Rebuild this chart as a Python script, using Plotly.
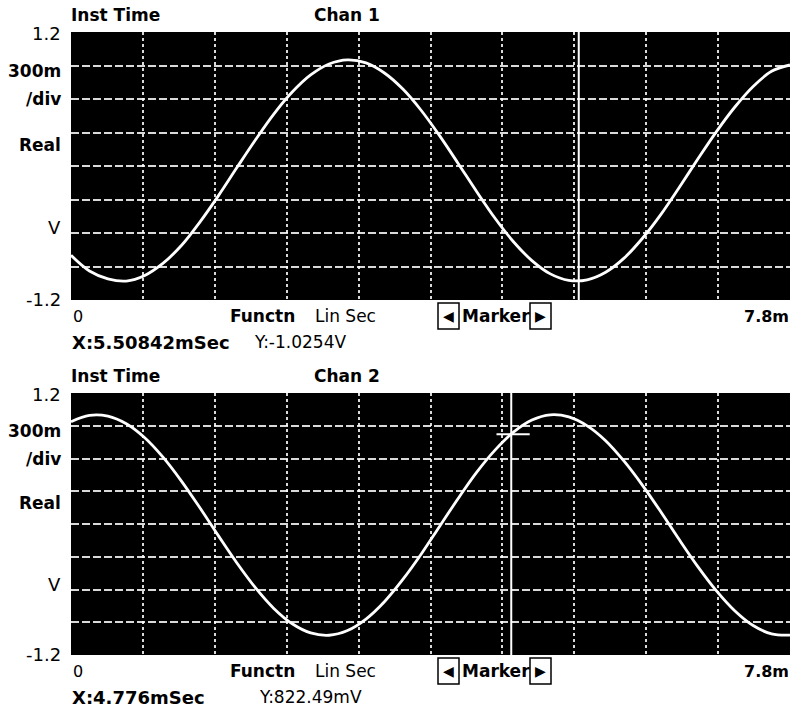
import plotly.graph_objects as go

# ---------------- data ----------------
time_ms = [0.0, 0.2, 0.4, 0.6, 0.8, 1.0, 1.2, 1.4, 1.6, 1.8,
           2.0, 2.2, 2.4, 2.6, 2.8, 3.0, 3.2, 3.4, 3.6, 3.8,
           4.0, 4.2, 4.4, 4.6, 4.8, 5.0, 5.2, 5.4, 5.6, 5.8,
           6.0, 6.2, 6.4, 6.6, 6.8, 7.0, 7.2, 7.4, 7.6, 7.8]

chan1_v = [-0.80, -0.94, -1.01, -1.03, -0.98, -0.87, -0.71, -0.50, -0.265, -0.014,
           0.233, 0.465, 0.662, 0.815, 0.913, 0.95, 0.923, 0.833, 0.689, 0.497,
           0.27, 0.023, -0.228, -0.468, -0.678, -0.847, -0.966, -1.024, -1.019, -0.951,
           -0.825, -0.647, -0.433, -0.19, 0.062, 0.306, 0.526, 0.712, 0.848, 0.905]

chan2_v = [0.937, 0.995, 0.988, 0.918, 0.79, 0.61, 0.391, 0.146, -0.109, -0.357,
           -0.583, -0.773, -0.914, -0.998, -1.019, -0.976, -0.871, -0.712, -0.508, -0.275,
           -0.02, 0.234, 0.473, 0.677, 0.841, 0.952, 1.0, 0.981, 0.899, 0.763,
           0.575, 0.354, 0.11, -0.145, -0.39, -0.61, -0.794, -0.93, -1.007, -1.018]

x_range = [0.0, 7.8]
y_range = [-1.2, 1.2]
x_div = 0.78
y_div = 0.3

channel_titles = ["Chan 1", "Chan 2"]
marker_x = [5.50842, 4.776]
marker_y = [-1.0254, 0.82249]
readout_x = ["X:5.50842mSec", "X:4.776mSec"]
readout_y = ["Y:-1.0254V", "Y:822.49mV"]
left_labels = [("1.2", 1.2, False), ("300m", 0.85, True), ("/div", 0.6, True),
               ("Real", 0.19, True), ("V", -0.55, False), ("-1.2", -1.2, False)]

# ---------------- layout geometry (pixels) ----------------
W, H = 797, 714
X0, X1 = 71, 790
panels = [(32, 300), (393, 655)]
FONT = "DejaVu Sans"


def fx(p):
    return p / W


def fy(p):
    return 1 - p / H


fig = go.Figure()
annotations = []
shapes = []

for i, (top, bot) in enumerate(panels):
    n = "" if i == 0 else str(i + 1)
    xa, ya = "x" + n, "y" + n
    vals = chan1_v if i == 0 else chan2_v
    fig.add_trace(go.Scatter(x=time_ms, y=vals, mode="lines", xaxis=xa, yaxis=ya,
                             line=dict(color="white", width=2.8, shape="spline"),
                             showlegend=False, hoverinfo="skip"))
    # marker vertical line
    fig.add_trace(go.Scatter(x=[marker_x[i], marker_x[i]], y=y_range, mode="lines",
                             xaxis=xa, yaxis=ya, line=dict(color="white", width=2),
                             showlegend=False, hoverinfo="skip"))
    if i == 1:
        fig.add_trace(go.Scatter(x=[marker_x[i] - 0.16, marker_x[i] + 0.2],
                                 y=[marker_y[i], marker_y[i]], mode="lines",
                                 xaxis=xa, yaxis=ya, line=dict(color="white", width=2),
                                 showlegend=False, hoverinfo="skip"))

    fig.layout["xaxis" + n] = dict(domain=[fx(X0), fx(X1)], range=x_range, dtick=x_div,
                                   tick0=0, showticklabels=False, ticks="",
                                   showgrid=True, gridcolor="rgba(255,255,255,0.85)",
                                   gridwidth=1.5, griddash="dot", zeroline=False,
                                   showline=False, anchor=ya, fixedrange=True)
    fig.layout["yaxis" + n] = dict(domain=[fy(bot), fy(top)], range=y_range, dtick=y_div,
                                   tick0=-1.2, showticklabels=False, ticks="",
                                   showgrid=True, gridcolor="rgba(255,255,255,0.85)",
                                   gridwidth=1.5, griddash="8px,3px", zeroline=False,
                                   showline=False, anchor=xa, fixedrange=True)
    # black screen background
    shapes.append(dict(type="rect", xref="paper", yref="paper", layer="below",
                       x0=fx(X0), x1=fx(X1), y0=fy(bot), y1=fy(top),
                       fillcolor="black", line=dict(width=0)))

    h = bot - top

    def ann(text, xp, yp, xanchor="left", size=17, bold=False):
        annotations.append(dict(text=("<b>%s</b>" % text) if bold else text,
                                x=fx(xp), y=fy(yp), xref="paper", yref="paper",
                                xanchor=xanchor, yanchor="middle", showarrow=False,
                                font=dict(family=FONT, size=size, color="black")))

    ann("Inst Time", 69, top - 17, bold=True)
    ann(channel_titles[i], 312, top - 17, bold=True)
    for txt, v, b in left_labels:
        yp = top + (y_range[1] - v) / (y_range[1] - y_range[0]) * h
        if v == y_range[1]:
            yp = top + 1
        if v == y_range[0]:
            yp = bot - 1
        ann(txt, 63, yp, xanchor="right", size=18 if not b else 17, bold=b)
    ann("0", 71, bot + 16, size=16)
    ann("Functn", 228, bot + 16, bold=True)
    ann("Lin Sec", 313, bot + 16)
    ann("Marker", 460, bot + 16, bold=True)
    ann("7.8m", 791, bot + 16, xanchor="right", size=16, bold=True)
    ann(readout_x[i], 70, bot + 42, size=18, bold=True)
    ann(readout_y[i], 252 if i == 0 else 257, bot + 42)
    # marker arrow boxes
    for (bx0, bx1, sym) in [(438, 459, "\u25C0"), (530, 551, "\u25B6")]:
        shapes.append(dict(type="rect", xref="paper", yref="paper",
                           x0=fx(bx0), x1=fx(bx1), y0=fy(bot + 29), y1=fy(bot + 3),
                           line=dict(color="black", width=1.5), fillcolor="white"))
        annotations.append(dict(text=sym, x=fx((bx0 + bx1) / 2), y=fy(bot + 16),
                                xref="paper", yref="paper", xanchor="center",
                                yanchor="middle", showarrow=False,
                                font=dict(family=FONT, size=14, color="black")))

fig.update_layout(width=W, height=H, autosize=False,
                  margin=dict(l=0, r=0, t=0, b=0, pad=0),
                  paper_bgcolor="white", plot_bgcolor="black",
                  annotations=annotations, shapes=shapes, showlegend=False)

fig.write_html("out.html", config={"displayModeBar": False})
